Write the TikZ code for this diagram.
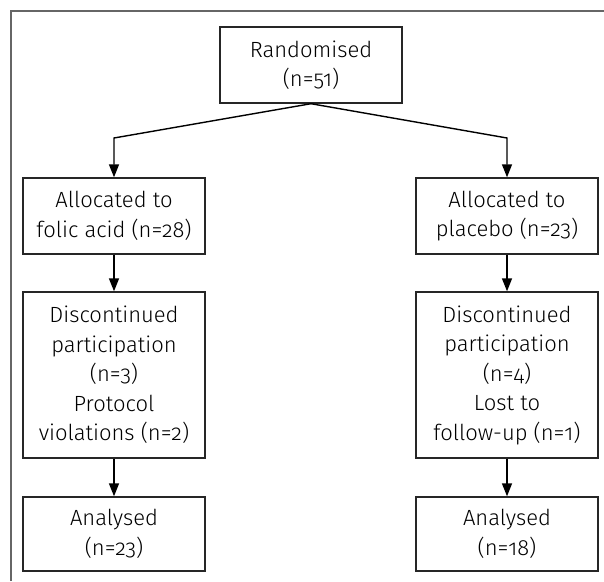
\documentclass[tikz,border=0pt]{standalone}
\usepackage{fontspec}
\setmainfont{Fira Sans Light}[Numbers=OldStyle]
\usetikzlibrary{arrows.meta}
\begin{document}
\begin{tikzpicture}[x=1pt,y=-1pt,
    box/.style={draw=black!85,line width=1.4pt,minimum width=182pt,inner sep=0pt,
      align=center,font=\fontsize{22}{29.5}\selectfont},
    link/.style={line width=1.4pt,-{Triangle[length=13pt,width=10pt]}}]
    \useasboundingbox (0,0) rectangle (604,581);
    \draw[black!60,line width=1.5pt] (11,581) -- (11,11) -- (604,11);

    \node[box,minimum height=76pt] (rand) at (311,65) {Randomised\\(n=51)};

    \node[box,minimum height=76pt] (folic) at (114,216) {Allocated to\\folic acid (n=28)};
    \node[box,minimum height=76pt] (plac) at (507,216) {Allocated to\\placebo (n=23)};

    \node[box,minimum height=166pt] (discf) at (114,375)
      {Discontinued\\participation\\(n=3)\\Protocol\\violations (n=2)};
    \node[box,minimum height=166pt] (discp) at (507,375)
      {Discontinued\\participation\\(n=4)\\Lost to\\follow-up (n=1)};

    \node[box,minimum height=74pt] (anaf) at (114,534) {Analysed\\(n=23)};
    \node[box,minimum height=74pt] (anap) at (507,534) {Analysed\\(n=18)};

    \coordinate (bendl) at (114,138);
    \coordinate (bendr) at (507,138);
    \draw[link] (rand.south) -- (bendl) -- (folic.north);
    \draw[link] (rand.south) -- (bendr) -- (plac.north);

    \draw[link] (folic) -- (discf);
    \draw[link] (plac) -- (discp);
    \draw[link] (discf) -- (anaf);
    \draw[link] (discp) -- (anap);
  \end{tikzpicture}
\end{document}
